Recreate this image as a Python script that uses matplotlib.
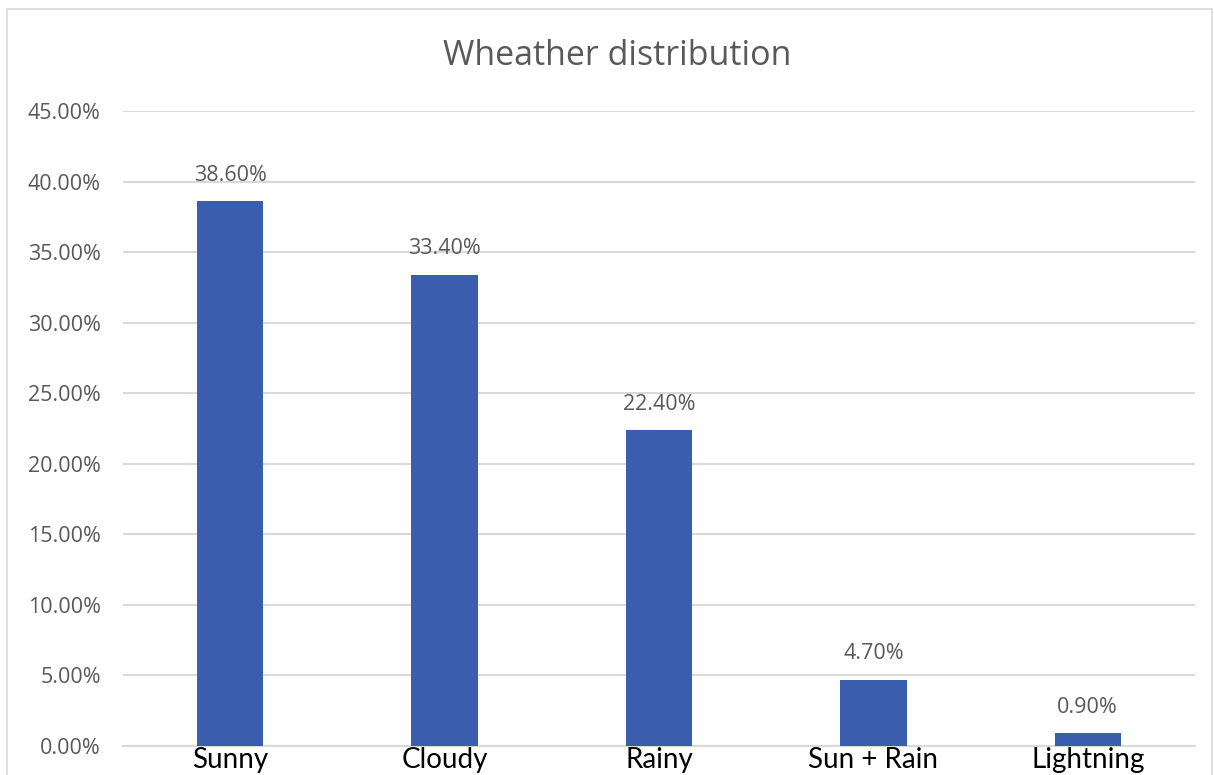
import numpy as np
import matplotlib.pyplot as plt
from matplotlib.patches import Rectangle
from matplotlib.ticker import PercentFormatter

categories = ['Sunny', 'Cloudy', 'Rainy', 'Sun + Rain', 'Lightning']
shares = [38.6, 33.4, 22.4, 4.7, 0.9]
yticks = np.arange(0, 50, 5)

gray = '#595959'
bar_color = '#3A5DAE'

fig = plt.figure(figsize=(12.14, 7.75), dpi=100)
ax = fig.add_axes([0.1013, 0.0374, 0.883, 0.8194])

x = np.arange(len(categories))
bars = ax.bar(x, shares, width=0.31, color=bar_color, zorder=3)

for b, v in zip(bars, shares):
    ax.annotate(f'{v:.2f}%', (b.get_x() + b.get_width() / 2, v),
                xytext=(0, 11), textcoords='offset points',
                ha='center', va='bottom', fontsize=15.5, color=gray,
                family='Open Sans')

ax.set_xlim(-0.5, len(categories) - 0.5)
ax.set_ylim(0, 45)
ax.set_yticks(yticks)
ax.yaxis.set_major_formatter(PercentFormatter(decimals=2))
ax.set_xticks(x)
ax.set_xticklabels(categories, fontsize=20, color='black', family='Lato')
ax.tick_params(axis='x', length=0, pad=1)
ax.tick_params(axis='y', length=0, pad=16, labelsize=15.5, labelcolor=gray)
for lab in ax.get_yticklabels():
    lab.set_family('Open Sans')

ax.grid(axis='y', color='#D9D9D9', linewidth=1.5, zorder=0)
for s in ['left', 'right', 'top']:
    ax.spines[s].set_visible(False)
ax.spines['bottom'].set_color('#D9D9D9')
ax.spines['bottom'].set_linewidth(1.5)

fig.text(0.508, 0.928, 'Wheather distribution', ha='center', va='center',
         fontsize=24.5, color=gray, family='Open Sans')

fig.patches.append(Rectangle((0.006, -0.01), 0.992, 0.998, transform=fig.transFigure,
                             fill=False, edgecolor='#D9D9D9', linewidth=1.2))

fig.savefig('out.png', dpi=100)
